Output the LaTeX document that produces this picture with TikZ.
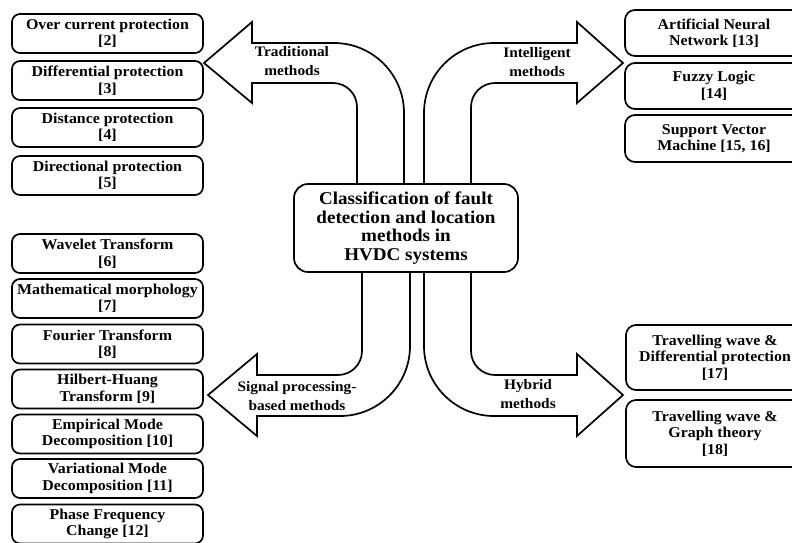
\documentclass[tikz,border=0pt]{standalone}
\usepackage{fontspec}
\setmainfont{Liberation Serif}[FakeStretch=1.06]
\begin{document}
\begin{tikzpicture}[
	x=1pt, y=-1pt,
	method/.style={draw, line width=1.7pt, rounded corners=8pt, align=center, inner sep=2pt, minimum width=191pt, minimum height=39pt, font=\fontsize{15}{16.5}\selectfont\bfseries},
	rmethod/.style={method, minimum width=178pt, rounded corners=10pt},
	hub/.style={draw, line width=1.7pt, rounded corners=14pt, align=center, fill=white, minimum width=224pt, minimum height=88pt, font=\fontsize{18}{18.5}\selectfont\bfseries},
	blockarrow/.style={draw, line width=1.7pt, line join=miter, fill=white},
	arrowlabel/.style={align=center, font=\fontsize{14.5}{19}\selectfont\bfseries}
	]
	\clip (0,0) rectangle (792,542);

	% block arrows
	\draw [blockarrow] (357,184) -- (357,107) arc[start angle=0, end angle=90, radius=24pt] -- (252,83) -- (252,103) -- (204,63) -- (252,22) -- (252,43) -- (334,43) arc[start angle=90, end angle=0, radius=70pt] -- (404,184);
	\draw [blockarrow] (471,184) -- (471,107) arc[start angle=180, end angle=90, radius=24pt] -- (577,83) -- (577,103) -- (623,63) -- (577,22) -- (577,43) -- (494,43) arc[start angle=90, end angle=180, radius=70pt] -- (424,184);
	\draw [blockarrow] (362,272) -- (362,351) arc[start angle=0, end angle=-90, radius=24pt] -- (257,375) -- (257,354) -- (208,395) -- (257,436) -- (257,416) -- (340,416) arc[start angle=-90, end angle=0, radius=70pt] -- (410,272);
	\draw [blockarrow] (471,272) -- (471,351) arc[start angle=180, end angle=270, radius=24pt] -- (577,375) -- (577,354) -- (623,395) -- (577,436) -- (577,416) -- (494,416) arc[start angle=270, end angle=180, radius=70pt] -- (424,272);

	% arrow labels
	\node [arrowlabel] (lbltrad) at (292,61) {Traditional\\methods};
	\node [arrowlabel] (lblintel) at (537,62) {Intelligent\\methods};
	\node [arrowlabel] (lblsignal) at (297,396) {Signal processing-\\based methods};
	\node [arrowlabel] (lblhybrid) at (528,394) {Hybrid\\methods};

	% centre
	\node [hub] (hub) at (406,228) {Classification of fault\\detection and location\\methods in\\HVDC systems};

	% traditional methods
	\node [method] (overcur) at (107.5,33.5) {Over current protection\\{[2]}};
	\node [method] (diffprot) at (107.5,80.5) {Differential protection\\{[3]}};
	\node [method] (distprot) at (107.5,127.5) {Distance protection\\{[4]}};
	\node [method] (dirprot) at (107.5,175.5) {Directional protection\\{[5]}};

	% signal processing-based methods
	\node [method] (wavelet) at (107.5,253.5) {Wavelet Transform\\{[6]}};
	\node [method] (morph) at (107.5,298.5) {Mathematical morphology\\{[7]}};
	\node [method] (fourier) at (107.5,344) {Fourier Transform\\{[8]}};
	\node [method] (hht) at (107.5,389) {Hilbert-Huang\\Transform [9]};
	\node [method] (emd) at (107.5,434) {Empirical Mode\\Decomposition [10]};
	\node [method] (vmd) at (107.5,478.5) {Variational Mode\\Decomposition [11]};
	\node [method] (pfc) at (107.5,524) {Phase Frequency\\Change [12]};

	% intelligent methods
	\node [rmethod, minimum height=46pt] (ann) at (714,33) {Artificial Neural\\Network [13]};
	\node [rmethod, minimum height=46pt] (fuzzy) at (714,86) {Fuzzy Logic\\{[14]}};
	\node [rmethod, minimum height=47pt] (svm) at (714,138.5) {Support Vector\\Machine [15, 16]};

	% hybrid methods
	\node [rmethod, minimum height=65pt] (twdiff) at (715,357.5) {Travelling wave \&\\Differential protection\\{[17]}};
	\node [rmethod, minimum height=67pt] (twgraph) at (715,433.5) {Travelling wave \&\\Graph theory\\{[18]}};
\end{tikzpicture}
\end{document}
